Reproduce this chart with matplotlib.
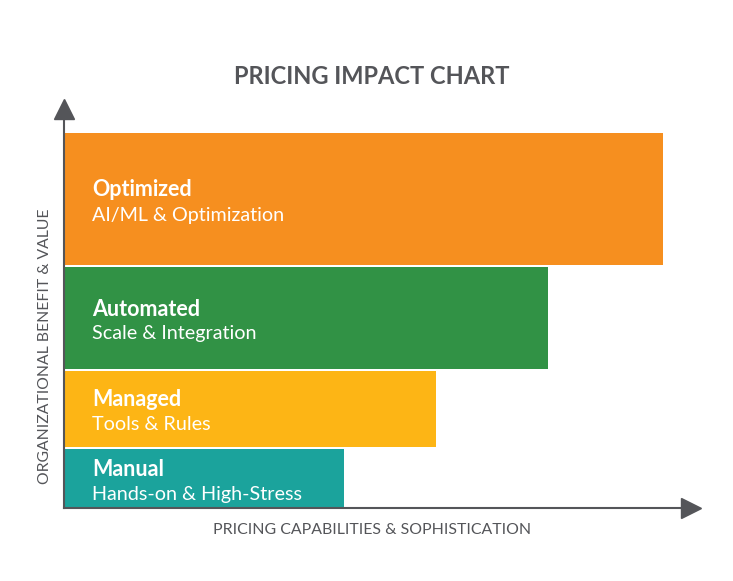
import matplotlib.pyplot as plt

# stages from bottom to top
stages = ["Manual", "Managed", "Automated", "Optimized"]
subtitles = ["Hands-on & High-Stress", "Tools & Rules", "Scale & Integration", "AI/ML & Optimization"]
# capability reached (bar length) and benefit band (bar thickness)
capability = [280, 372, 484, 599]
benefit = [59, 76, 102, 132]
colors = ["#1BA39C", "#FDB515", "#319245", "#F68F1F"]

gap = 2
axis_col = "#545559"
plt.rcParams['font.family'] = ['Lato', 'DejaVu Sans']

fig = plt.figure(figsize=(7.33, 5.81), dpi=100)
W, H = 733, 581
x0, x1, y0, y1 = 64, 700, 508, 100
ax = fig.add_axes([x0 / W, (H - y0) / H, (x1 - x0) / W, (y0 - y1) / H])
ax.set_xlim(0, x1 - x0)
ax.set_ylim(0, y0 - y1)

bottom = 0
for name, sub, cap, ben, c in zip(stages, subtitles, capability, benefit, colors):
    ax.barh(bottom + ben / 2, cap, height=ben, left=0, color=c, edgecolor='none')
    mid = bottom + ben / 2
    ax.text(28, mid + 9, name, color='white', fontsize=15.5, fontweight='bold', va='center', ha='left')
    ax.text(28, mid - 16, sub, color='white', fontsize=14.2, va='center', ha='left')
    bottom += ben + gap

for s in ax.spines.values():
    s.set_visible(False)
ax.set_xticks([])
ax.set_yticks([])

# axes with arrow heads
ax.plot([0, 0.985], [0, 0], color=axis_col, lw=1.5, transform=ax.transAxes, clip_on=False)
ax.plot([0.9858], [0], marker='>', ms=14, color=axis_col, transform=ax.transAxes, clip_on=False)
ax.plot([0, 0], [0, 0.97], color=axis_col, lw=1.5, transform=ax.transAxes, clip_on=False)
ax.plot([0], [0.978], marker='^', ms=14, color=axis_col, transform=ax.transAxes, clip_on=False)

fig.text(372 / W, 1 - 76 / H, "PRICING IMPACT CHART", ha='center', va='center',
         fontsize=17, fontweight='bold', color=axis_col)
fig.text(372 / W, 1 - 530 / H, "PRICING CAPABILITIES & SOPHISTICATION", ha='center', va='center',
         fontsize=11.4, color=axis_col)
fig.text(45.5 / W, 1 - 346 / H, "ORGANIZATIONAL BENEFIT & VALUE", ha='center', va='center',
         fontsize=11.3, color=axis_col, rotation=90)

fig.savefig("out.png", dpi=100)
